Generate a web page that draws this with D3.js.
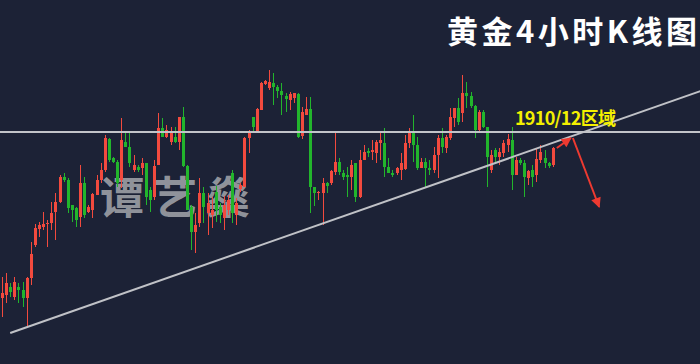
<!DOCTYPE html>
<html>
<head>
<meta charset="utf-8">
<script src="https://cdn.jsdelivr.net/npm/d3@7"></script>
<style>
  html, body { margin: 0; padding: 0; background: #1c2236; }
  svg { display: block; }
</style>
</head>
<body>
<svg id="chart" width="700" height="364"></svg>
<script>
// Gold 4-hour candles (USD/oz)
const openPrices = [
  1827, 1828.5, 1832.5, 1827.5, 1832.5, 1831, 1827, 1837, 1853.5, 1861.5,
  1862.5, 1864, 1864.5, 1870, 1875, 1887.5, 1886, 1873.5, 1872, 1867.5,
  1884.5, 1870, 1871, 1878.5, 1886, 1891, 1906.5, 1897, 1895, 1886,
  1905, 1902.5, 1891, 1892.5, 1892, 1894.5, 1881, 1877.5, 1893.5, 1912,
  1907.5, 1905, 1907.5, 1905, 1917.5, 1893, 1872.5, 1860, 1864.5, 1879.5,
  1869.5, 1868.5, 1880, 1872.5, 1867, 1871, 1889.5, 1868.5, 1881.5, 1882.5,
  1907, 1917.5, 1910.5, 1921, 1934, 1932, 1934.5, 1932.5, 1930.5, 1928,
  1926, 1927, 1929, 1908, 1918.5, 1921.5, 1882.5, 1879.5, 1879.5, 1884.5,
  1884.5, 1890, 1895, 1889.5, 1888.5, 1887.5, 1894.5, 1877.5, 1896, 1900.5,
  1900, 1899.5, 1904.5, 1904.5, 1892.5, 1889.5, 1889.5, 1891, 1891.5, 1904.5,
  1909.5, 1903.5, 1892, 1895, 1892, 1891, 1898.5, 1907, 1902, 1907,
  1917, 1922, 1919.5, 1929.5, 1928, 1923, 1911, 1920, 1912.5, 1891,
  1901, 1897.5, 1899.5, 1903.5, 1906, 1888.5, 1896, 1894.5, 1887, 1891,
  1888.5, 1896, 1897, 1894.5, 1893.5
];
const highPrices = [
  1837.5, 1839.5, 1834.5, 1837.5, 1834.5, 1835, 1837.5, 1855, 1864, 1865,
  1870, 1866, 1875, 1879.5, 1888.5, 1889.5, 1887, 1873.5, 1872.5, 1893.5,
  1887.5, 1873.5, 1879.5, 1888.5, 1894.5, 1908.5, 1907, 1897.5, 1896, 1917,
  1910, 1910, 1898.5, 1893.5, 1897, 1894.5, 1882.5, 1896, 1919.5, 1917,
  1913.5, 1912.5, 1912.5, 1917.5, 1922.5, 1893.5, 1873.5, 1869.5, 1887, 1882.5,
  1879.5, 1877.5, 1883, 1874.5, 1878, 1878.5, 1891, 1877, 1884.5, 1907.5,
  1911, 1917.5, 1922, 1935, 1936, 1941, 1939.5, 1933.5, 1934.5, 1929.5,
  1930, 1929.5, 1929.5, 1922.5, 1927.5, 1927.5, 1882.5, 1880.5, 1887, 1885,
  1891, 1910, 1897, 1891, 1892.5, 1896, 1894.5, 1901, 1903.5, 1902,
  1906, 1906, 1909.5, 1912, 1897, 1891, 1892.5, 1899.5, 1908.5, 1912,
  1918.5, 1907.5, 1897, 1897, 1896, 1902.5, 1908.5, 1912, 1908.5, 1922,
  1922, 1927, 1938.5, 1935, 1930, 1923.5, 1921, 1921, 1912.5, 1901,
  1902, 1902, 1906, 1909, 1912.5, 1897.5, 1897, 1896, 1891, 1893.5,
  1902, 1903.5, 1901, 1895, 1902.5
];
const lowPrices = [
  1817.5, 1824.5, 1827.5, 1826, 1824.5, 1822.5, 1812.5, 1833.5, 1852.5, 1857.5,
  1861, 1852.5, 1861, 1856, 1874.5, 1885, 1869.5, 1865, 1862.5, 1862.5,
  1867, 1869.5, 1867, 1878.5, 1884.5, 1890, 1895, 1894.5, 1882.5, 1882,
  1902.5, 1892.5, 1890, 1890, 1888.5, 1873.5, 1870, 1876, 1893.5, 1907.5,
  1907, 1903.5, 1904.5, 1901, 1892.5, 1871, 1851, 1849.5, 1862.5, 1864.5,
  1858.5, 1862, 1865, 1864.5, 1861, 1868.5, 1864.5, 1863.5, 1880, 1882.5,
  1899.5, 1910, 1910.5, 1921, 1933.5, 1931, 1923.5, 1927, 1918.5, 1920,
  1921, 1924.5, 1907, 1906.5, 1918.5, 1869.5, 1873, 1876, 1863.5, 1879.5,
  1883.5, 1888.5, 1888.5, 1886, 1877.5, 1881, 1875, 1877, 1896, 1897.5,
  1896, 1894.5, 1896, 1887.5, 1889.5, 1887.5, 1888.5, 1886, 1891, 1902,
  1895, 1891, 1892, 1882.5, 1888.5, 1889.5, 1887, 1899.5, 1899.5, 1906,
  1912.5, 1913.5, 1915, 1922, 1922, 1907, 1910, 1912, 1882.5, 1889.5,
  1895, 1893.5, 1897.5, 1900, 1881, 1888.5, 1893.5, 1877.5, 1883.5, 1882.5,
  1885, 1894.5, 1892, 1892, 1892.5
];
const closePrices = [
  1829.5, 1834.5, 1830, 1835, 1831, 1827, 1837, 1849, 1862, 1863.5,
  1864, 1864.5, 1869.5, 1875, 1887.5, 1886, 1872, 1871, 1866, 1884.5,
  1868.5, 1872.5, 1879, 1886, 1891, 1907, 1896, 1895, 1884.5, 1906,
  1902.5, 1894.5, 1893.5, 1891, 1894.5, 1877.5, 1876, 1893, 1912, 1907.5,
  1911, 1910, 1905, 1917.5, 1893, 1871, 1860, 1863.5, 1879.5, 1872.5,
  1874.5, 1871, 1871, 1868.5, 1873.5, 1876, 1869.5, 1874.5, 1883.5, 1907,
  1910.5, 1912.5, 1921.5, 1934.5, 1935.5, 1935, 1932.5, 1930.5, 1928.5, 1926.5,
  1929, 1929.5, 1907.5, 1920, 1921.5, 1882.5, 1879.5, 1880, 1884.5, 1883,
  1890.5, 1895, 1890, 1887.5, 1887.5, 1893.5, 1877.5, 1896, 1900, 1899.5,
  1901, 1905, 1906, 1892.5, 1889.5, 1888.5, 1892, 1894.5, 1904.5, 1909.5,
  1903.5, 1892, 1895, 1892, 1891, 1898.5, 1907, 1902.5, 1907.5, 1917.5,
  1922, 1915, 1929.5, 1928, 1923, 1911, 1920, 1912.5, 1897.5, 1898.5,
  1897.5, 1900, 1904.5, 1906.5, 1888.5, 1896, 1894.5, 1887.5, 1890.5, 1887.5,
  1896.5, 1900, 1894.5, 1893, 1902
];

// Resistance level and rising trend line (bar index, price)
const resistanceLevel = 1910;
const trendIndex = [2, 170];
const trendPrice = [1809.5, 1930.5];

// Projected move: push into the zone, then drop
const arrowUpIndex = [135, 138.4];
const arrowUpPrice = [1902, 1907];
const arrowDownIndex = [138.9, 145.3];
const arrowDownPrice = [1907, 1872.5];

const titleText = "黄金4小时K线图";
const zoneText = "1910/12区域";
const zoneIndex = 124.8;
const zonePrice = 1913.5;
const watermarkText = "谭艺燊";

const W = 700, H = 364;
const svg = d3.select("#chart");

svg.append("rect").attr("width", W).attr("height", H).attr("fill", "#1c2236");

const x = d3.scaleLinear().domain([0, 170]).range([2, 700.7]);
const y = d3.scaleLinear().domain([1801, 1951]).range([350, 50]);

const candles = openPrices.map((o, i) => ({
  i, o, h: highPrices[i], l: lowPrices[i], c: closePrices[i]
}));
const upColor = "#f24a3e";
const downColor = "#22b52c";
const bodyW = 3;

// Watermark sits behind the candles
svg.append("text")
  .attr("x", 100).attr("y", 214)
  .attr("font-family", "'Noto Sans CJK SC', sans-serif")
  .attr("font-size", 44)
  .attr("font-weight", "bold")
  .attr("fill", "#b0b2b6")
  .attr("fill-opacity", 0.8)
  .attr("textLength", 150)
  .attr("lengthAdjust", "spacing")
  .text(watermarkText);

const g = svg.append("g");
g.selectAll("line.wick").data(candles).join("line")
  .attr("class", "wick")
  .attr("x1", d => Math.round(x(d.i)) + 0.5)
  .attr("x2", d => Math.round(x(d.i)) + 0.5)
  .attr("y1", d => y(d.h))
  .attr("y2", d => y(d.l))
  .attr("stroke", d => d.c >= d.o ? upColor : downColor)
  .attr("stroke-width", 1);

g.selectAll("rect.body").data(candles).join("rect")
  .attr("class", "body")
  .attr("x", d => Math.round(x(d.i)) - 1)
  .attr("width", bodyW)
  .attr("y", d => y(Math.max(d.o, d.c)))
  .attr("height", d => Math.max(1, Math.abs(y(d.o) - y(d.c))))
  .attr("fill", d => d.c >= d.o ? upColor : downColor);

// Horizontal resistance
svg.append("line")
  .attr("x1", 0).attr("x2", W)
  .attr("y1", y(resistanceLevel)).attr("y2", y(resistanceLevel))
  .attr("stroke", "#c2c4c9").attr("stroke-width", 2);

// Rising support line
svg.append("line")
  .attr("x1", x(trendIndex[0])).attr("y1", y(trendPrice[0]))
  .attr("x2", x(trendIndex[1])).attr("y2", y(trendPrice[1]))
  .attr("stroke", "#c0c2c7").attr("stroke-width", 2);

// Arrow heads
const defs = svg.append("defs");
defs.append("marker")
  .attr("id", "head")
  .attr("viewBox", "0 0 10 10")
  .attr("refX", 9).attr("refY", 5)
  .attr("markerWidth", 6).attr("markerHeight", 5)
  .attr("markerUnits", "strokeWidth")
  .attr("orient", "auto")
  .append("path")
  .attr("d", "M0,0 L10,5 L0,10 z")
  .attr("fill", "#ee3a31");

[[arrowUpIndex, arrowUpPrice], [arrowDownIndex, arrowDownPrice]].forEach(([xi, pr]) => {
  svg.append("line")
    .attr("x1", x(xi[0])).attr("y1", y(pr[0]))
    .attr("x2", x(xi[1])).attr("y2", y(pr[1]))
    .attr("stroke", "#ee3a31").attr("stroke-width", 2)
    .attr("marker-end", "url(#head)");
});

// Zone label
svg.append("text")
  .attr("x", x(zoneIndex)).attr("y", y(zonePrice))
  .attr("font-family", "'Noto Sans CJK SC', sans-serif")
  .attr("font-size", 18)
  .attr("font-weight", "bold")
  .attr("fill", "#f4f000")
  .attr("textLength", 101)
  .attr("lengthAdjust", "spacing")
  .text(zoneText);

// Title
svg.append("text")
  .attr("x", 447).attr("y", 43)
  .attr("font-family", "'Noto Sans CJK SC', sans-serif")
  .attr("font-size", 31)
  .attr("font-weight", "bold")
  .attr("fill", "#ffffff")
  .attr("textLength", 250)
  .attr("lengthAdjust", "spacing")
  .text(titleText);
</script>
</body>
</html>
